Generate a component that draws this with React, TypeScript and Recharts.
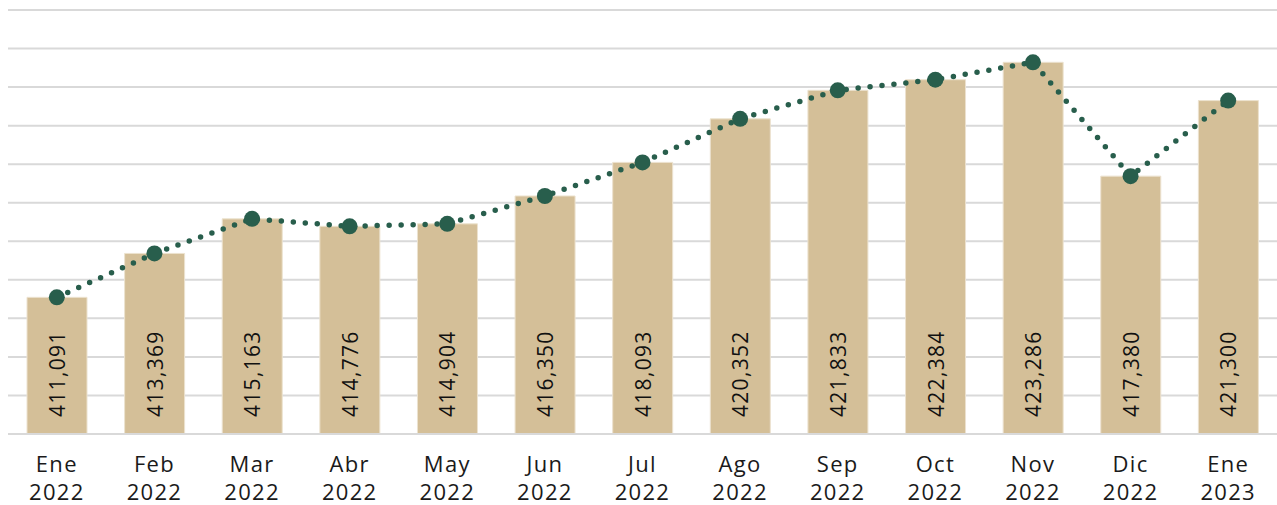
import { Bar, CartesianGrid, ComposedChart, LabelList, Line, XAxis, YAxis } from "recharts";

const months = ["Ene", "Feb", "Mar", "Abr", "May", "Jun", "Jul", "Ago", "Sep", "Oct", "Nov", "Dic", "Ene"];
const years = ["2022", "2022", "2022", "2022", "2022", "2022", "2022", "2022", "2022", "2022", "2022", "2022", "2023"];
const values = [411091, 413369, 415163, 414776, 414904, 416350, 418093, 420352, 421833, 422384, 423286, 417380, 421300];
const yTicks = [404000, 406000, 408000, 410000, 412000, 414000, 416000, 418000, 420000, 422000, 424000, 426000];

const FONT = "'Open Sans', 'DejaVu Sans', sans-serif";

const chartData = months.map((m, i) => ({
  name: `${m} ${years[i]}`,
  month: m,
  year: years[i],
  value: values[i],
}));

// two-line month / year tick
function MonthTick(props: any) {
  const { x, y, index } = props;
  const d = chartData[index];
  return (
    <g transform={`translate(${x},${y})`}>
      <text textAnchor="middle" fill="#1a1a1a" fontSize={22} letterSpacing={1.3} fontFamily={FONT}>
        <tspan x={0} dy={30}>{d.month}</tspan>
        <tspan x={0} dy={28}>{d.year}</tspan>
      </text>
    </g>
  );
}

// vertical value label sitting at the bottom of each bar
function BarLabel(props: any) {
  const { x, y, width, height, value } = props;
  const cx = x + width / 2;
  const by = y + height - 17;
  return (
    <text
      x={cx}
      y={by}
      transform={`rotate(-90, ${cx}, ${by})`}
      textAnchor="start"
      dominantBaseline="central"
      fill="#111"
      fontSize={21}
      letterSpacing={1.3}
      fontFamily={FONT}
    >
      {value.toLocaleString("en-US")}
    </text>
  );
}

export default function App() {
  return (
    <div style={{ position: "absolute", left: 0, top: 0, background: "#fff" }}>
      <ComposedChart
        width={1277}
        height={505}
        data={chartData}
        margin={{ top: 10, right: 0, bottom: 0, left: 8 }}
        barCategoryGap="20%"
      >
        <CartesianGrid vertical={false} stroke="#d9d9d9" strokeWidth={2} />
        <XAxis
          dataKey="name"
          axisLine={{ stroke: "#d9d9d9", strokeWidth: 2 }}
          tickLine={false}
          height={71}
          interval={0}
          tick={<MonthTick />}
        />
        <YAxis hide domain={[404000, 426000]} ticks={yTicks} />
        <Bar dataKey="value" fill="#d4bf98" stroke="#ece2cf" strokeWidth={1} barSize={60} isAnimationActive={false}>
          <LabelList dataKey="value" content={<BarLabel />} />
        </Bar>
        <Line
          type="linear"
          dataKey="value"
          stroke="#285e4c"
          strokeWidth={5.5}
          strokeDasharray="0 12"
          strokeLinecap="round"
          dot={{ r: 8, fill: "#285e4c", stroke: "none" }}
          activeDot={false}
          isAnimationActive={false}
        />
      </ComposedChart>
    </div>
  );
}
